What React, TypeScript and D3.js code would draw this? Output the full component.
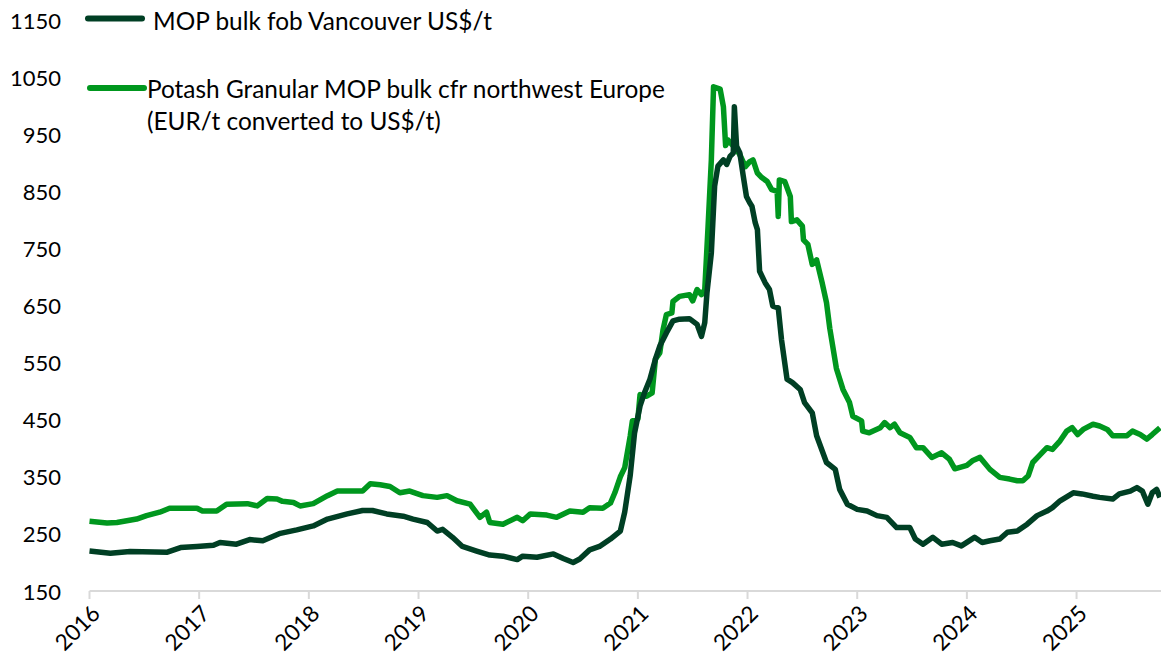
import React from "react";
import * as d3 from "d3";

// Decimal-year positions and values (US$/t)
const vancouverDates = [
  2016.0, 2016.19, 2016.37, 2016.71, 2016.83, 2016.98, 2017.13, 2017.19, 2017.34, 2017.46,
  2017.58, 2017.74, 2017.89, 2018.04, 2018.17, 2018.35, 2018.49, 2018.58, 2018.71, 2018.86,
  2018.95, 2019.08, 2019.17, 2019.22, 2019.31, 2019.4, 2019.53, 2019.65, 2019.77, 2019.9,
  2019.95, 2020.08, 2020.23, 2020.32, 2020.41, 2020.47, 2020.56, 2020.65, 2020.75, 2020.84,
  2020.88, 2020.93, 2020.97, 2021.02, 2021.06, 2021.11, 2021.16, 2021.2, 2021.26, 2021.32,
  2021.38, 2021.47, 2021.54, 2021.58, 2021.61, 2021.63, 2021.67, 2021.7, 2021.73, 2021.78,
  2021.81, 2021.84, 2021.87, 2021.88, 2021.9, 2021.93, 2021.96, 2021.99, 2022.02, 2022.04,
  2022.07, 2022.09, 2022.11, 2022.16, 2022.2, 2022.23, 2022.28, 2022.31, 2022.36, 2022.41,
  2022.48, 2022.52, 2022.59, 2022.63, 2022.72, 2022.8, 2022.84, 2022.91, 2023.0, 2023.09,
  2023.18, 2023.27, 2023.36, 2023.48, 2023.53, 2023.6, 2023.69, 2023.77, 2023.87, 2023.95,
  2024.07, 2024.14, 2024.21, 2024.3, 2024.37, 2024.46, 2024.55, 2024.64, 2024.73, 2024.78,
  2024.85, 2024.97, 2025.05, 2025.15, 2025.21, 2025.33, 2025.39, 2025.49, 2025.55, 2025.6,
  2025.65, 2025.69, 2025.73, 2025.76,
];
const vancouverValues = [
  220, 216, 219, 218, 226, 228, 230, 235, 232, 240,
  238, 251, 257, 264, 276, 285, 291, 291, 285, 281,
  276, 270, 255, 258, 244, 228, 220, 213, 211, 205,
  211, 209, 215, 207, 200, 206, 222, 228, 241, 255,
  288, 352, 427, 474, 497, 521, 556, 579, 602, 623,
  626, 627, 617, 596, 620, 672, 742, 859, 894, 905,
  897, 911, 917, 998, 929, 917, 878, 841, 830, 824,
  795, 783, 710, 690, 678, 649, 646, 590, 521, 515,
  503, 480, 462, 422, 375, 363, 328, 302, 293, 290,
  282, 279, 261, 261, 241, 232, 244, 232, 235, 229,
  244, 235, 238, 241, 253, 255, 267, 282, 290, 296,
  308, 322, 320, 316, 314, 311, 320, 325, 331, 325,
  302, 322, 328, 314,
];

const europeDates = [
  2016.0, 2016.16, 2016.25, 2016.43, 2016.52, 2016.64, 2016.73, 2016.98, 2017.03, 2017.16,
  2017.25, 2017.44, 2017.53, 2017.62, 2017.71, 2017.76, 2017.86, 2017.92, 2018.04, 2018.17,
  2018.26, 2018.49, 2018.56, 2018.65, 2018.74, 2018.83, 2018.92, 2019.04, 2019.17, 2019.26,
  2019.35, 2019.47, 2019.56, 2019.62, 2019.65, 2019.77, 2019.9, 2019.95, 2020.02, 2020.17,
  2020.26, 2020.38, 2020.5, 2020.56, 2020.68, 2020.75, 2020.79, 2020.84, 2020.88, 2020.93,
  2020.95, 2021.0, 2021.02, 2021.08, 2021.13, 2021.16, 2021.2, 2021.23, 2021.26, 2021.31,
  2021.32, 2021.38, 2021.47, 2021.5, 2021.54, 2021.58, 2021.61, 2021.64, 2021.67, 2021.69,
  2021.75, 2021.78, 2021.8, 2021.82, 2021.9, 2021.93, 2021.98, 2022.02, 2022.05, 2022.09,
  2022.13, 2022.18, 2022.22, 2022.27, 2022.28, 2022.29, 2022.34, 2022.39, 2022.4, 2022.45,
  2022.5, 2022.51, 2022.55, 2022.59, 2022.63, 2022.68, 2022.72, 2022.75, 2022.81, 2022.87,
  2022.93, 2022.96, 2023.04, 2023.05, 2023.11, 2023.21, 2023.25, 2023.3, 2023.34, 2023.39,
  2023.48, 2023.54, 2023.6, 2023.68, 2023.77, 2023.84, 2023.89, 2024.0, 2024.05, 2024.12,
  2024.21, 2024.3, 2024.39, 2024.46, 2024.51, 2024.56, 2024.6, 2024.66, 2024.73, 2024.78,
  2024.85, 2024.91, 2024.96, 2025.01, 2025.06, 2025.15, 2025.21, 2025.28, 2025.33, 2025.46,
  2025.51, 2025.58, 2025.64, 2025.69, 2025.76,
];
const europeValues = [
  272, 269, 270, 276, 282, 288, 295, 295, 290, 290,
  302, 303, 299, 312, 311, 307, 305, 299, 303, 317,
  325, 325, 338, 336, 333, 322, 325, 317, 314, 317,
  308, 302, 279, 288, 270, 267, 279, 273, 285, 283,
  279, 290, 288, 296, 295, 304, 322, 350, 366, 421,
  448, 451, 494, 491, 497, 556, 567, 608, 634, 637,
  657, 666, 669, 658, 678, 669, 678, 788, 905, 1033,
  1029, 998, 930, 940, 923, 914, 893, 902, 905, 882,
  874, 867, 853, 850, 806, 870, 867, 841, 797, 800,
  789, 765, 757, 722, 730, 690, 655, 610, 540, 503,
  480, 456, 448, 430, 427, 436, 445, 436, 442, 427,
  419, 401, 401, 384, 392, 381, 364, 370, 378, 384,
  363, 349, 346, 343, 343, 352, 375, 387, 401, 398,
  413, 430, 436, 424, 433, 442, 439, 433, 422, 422,
  430, 424, 416, 424, 436,
];

const yTicks = [150, 250, 350, 450, 550, 650, 750, 850, 950, 1050, 1150];
const xTicks = [2016, 2017, 2018, 2019, 2020, 2021, 2022, 2023, 2024, 2025];

const seriesNames = [
  ["MOP bulk fob Vancouver US$/t"],
  ["Potash Granular MOP bulk cfr northwest Europe", "(EUR/t converted to US$/t)"],
];

const DARK = "#003f24";
const BRIGHT = "#00971e";

export default function App() {
  const W = 1161;
  const H = 664;
  const x = d3.scaleLinear().domain([2016, 2025.77]).range([89.5, 1161]);
  const y = d3.scaleLinear().domain([150, 1150]).range([591, 20]);

  const van = vancouverDates.map((d, i) => [d, vancouverValues[i]] as [number, number]);
  const eur = europeDates.map((d, i) => [d, europeValues[i]] as [number, number]);
  const line = d3
    .line<[number, number]>()
    .x((d) => x(d[0]))
    .y((d) => y(d[1]));

  const font = "Lato, 'Open Sans', sans-serif";

  return (
    <svg
      width={W}
      height={H}
      style={{ position: "absolute", left: 0, top: 0, background: "#fff" }}
      fontFamily={font}
    >
      {/* y tick labels */}
      {yTicks.map((t) => (
        <text key={t} x={61} y={y(t)} textAnchor="end" dominantBaseline="central" fontSize={22} fill="#000">
          {t}
        </text>
      ))}
      {/* x axis */}
      <line x1={x(2016)} x2={W} y1={y(150)} y2={y(150)} stroke="#d9d9d9" strokeWidth={2} />
      {xTicks.map((t) => (
        <g key={t}>
          <line x1={x(t)} x2={x(t)} y1={y(150)} y2={y(150) + 8} stroke="#d9d9d9" strokeWidth={2} />
          <text
            transform={`translate(${x(t) + 6},${y(150) + 18}) rotate(-45)`}
            textAnchor="end"
            dominantBaseline="central"
            fontSize={22.5}
            fill="#000"
          >
            {t}
          </text>
        </g>
      ))}
      {/* series */}
      <path d={line(eur) || ""} fill="none" stroke={BRIGHT} strokeWidth={5.5} strokeLinejoin="round" />
      <path d={line(van) || ""} fill="none" stroke={DARK} strokeWidth={5.5} strokeLinejoin="round" />
      {/* legend */}
      <line x1={88} x2={142} y1={18.5} y2={18.5} stroke={DARK} strokeWidth={6} strokeLinecap="round" />
      <text x={153} y={20} dominantBaseline="central" fontSize={24.4} fill="#000">
        {seriesNames[0][0]}
      </text>
      <line x1={90} x2={144} y1={88} y2={88} stroke={BRIGHT} strokeWidth={6} strokeLinecap="round" />
      <text x={147} y={88} dominantBaseline="central" fontSize={24.4} fill="#000">
        {seriesNames[1][0]}
      </text>
      <text x={147} y={120} dominantBaseline="central" fontSize={24.4} fill="#000">
        {seriesNames[1][1]}
      </text>
    </svg>
  );
}
